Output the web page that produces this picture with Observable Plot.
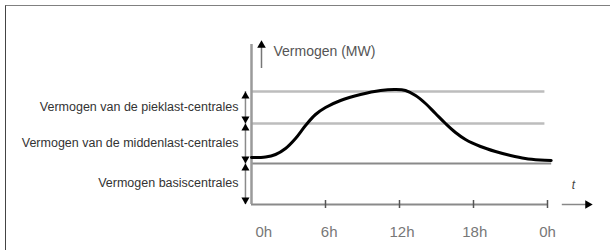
<!DOCTYPE html>
<html>
<head>
<meta charset="utf-8">
<script src="https://cdn.jsdelivr.net/npm/d3@7"></script>
<script src="https://cdn.jsdelivr.net/npm/@observablehq/plot@0.6"></script>
<style>
  html, body { margin: 0; padding: 0; background: #fff; overflow: hidden; }
  #wrap { position: relative; width: 610px; height: 250px; }
  #border { position: absolute; left: 5px; top: 5px; width: 700px; height: 400px;
            border-left: 1.5px solid #444; border-top: 1.5px solid #808080; }
  #chart { position: absolute; left: 0; top: 0; }
</style>
</head>
<body>
<div id="wrap"><div id="border"></div><div id="chart"></div></div>
<script>
// Daily load curve (hours, MW, arbitrary units)
const hours  = [0, 1.14, 1.95, 2.76, 3.57, 4.38, 5.19, 6.0, 7.22, 8.84, 10.46, 11.68, 12.49, 13.3, 14.11, 14.92, 15.73, 16.54, 17.35, 18.57, 19.78, 21.0, 22.2, 23.4, 24.3];
const power  = [47, 47.5, 50, 56, 66, 79, 90, 97, 104, 110, 114, 115, 114, 109, 101, 91, 81, 72, 65, 58, 53, 49, 46, 44.5, 44];

// Capacity levels (base, middle, peak)
const levels = [41, 81, 113];
const levelEnds = [24.3, 23.75, 23.75];
const levelColors = ["#8a8a8a", "#bdbdbd", "#bdbdbd"];
const bandLabels = ["Vermogen basiscentrales", "Vermogen van de middenlast-centrales", "Vermogen van de pieklast-centrales"];

// x axis ticks
const tickHours = [0, 6, 12, 18, 24];
const tickLabels = ["0h", "6h", "12h", "18h", "0h"];
const tickLabelPos = [1, 6.3, 12.2, 18.1, 24];

const curve = hours.map((h, i) => ({h, p: power[i]}));
const lv = levels.map((v, i) => ({v, x2: levelEnds[i], c: levelColors[i]}));
const bounds = [0, ...levels];
const bands = bandLabels.map((t, i) => ({t, y: (bounds[i] + bounds[i + 1]) / 2}));
const dimX = -0.49;
const upTips = levels.map(v => ({v}));
const downTips = bounds.slice(0, 3).map(v => ({v}));

const chart = Plot.plot({
  width: 610,
  height: 250,
  x: {domain: [0, 24], range: [251, 547], axis: null},
  y: {domain: [0, 164], range: [204, 40], axis: null},
  style: {fontFamily: "Liberation Sans, Arial, sans-serif", background: "transparent"},
  marks: [
    // capacity level lines
    Plot.link(lv, {x1: 0, x2: "x2", y1: "v", y2: "v", stroke: "c", strokeWidth: d => d.v === levels[0] ? 2 : 2.5}),
    // x axis
    Plot.ruleY([0], {x1: 0, x2: 24, stroke: "#8a8a8a", strokeWidth: 2}),
    Plot.ruleX(tickHours.slice(1), {y1: -4, y2: 4, stroke: "#555", strokeWidth: 1.5}),
    // y axis
    Plot.ruleX([0], {y1: 0, y2: 160, stroke: "#9a9a9a", strokeWidth: 2.5}),
    // dimension line
    Plot.ruleX([dimX], {y1: 0, y2: levels[2], stroke: "#8a8a8a", strokeWidth: 1.5}),
    Plot.dot(upTips, {x: dimX, y: "v", symbol: "triangle", r: 3, fill: "#000", stroke: "none", dy: 4.6}),
    Plot.dot(downTips, {x: dimX, y: "v", symbol: "triangle", r: 3, rotate: 180, fill: "#000", stroke: "none", dy: -4.6}),
    // band labels
    Plot.text(bands, {x: -1.05, y: "y", text: "t", textAnchor: "end", fontSize: 12.5, fill: "#333", dy: -1}),
    // load curve
    Plot.line(curve, {x: "h", y: "p", curve: "catmull-rom", stroke: "#000", strokeWidth: 3}),
    // y axis title arrow
    Plot.ruleX([0.81], {y1: 136, y2: 158, stroke: "#777", strokeWidth: 1.5}),
    Plot.dot([164], {x: 0.81, y: d => d, symbol: "triangle", r: 3.2, fill: "#000", stroke: "none", dy: 4.8}),
    Plot.text(["Vermogen (MW)"], {x: 1.78, y: 153, text: d => d, textAnchor: "start", fontSize: 14, fill: "#555", letterSpacing: 0.8}),
    // time arrow
    Plot.ruleY([0], {x1: 25.2, x2: 27.2, stroke: "#888", strokeWidth: 1.5}),
    Plot.dot([27.65], {x: d => d, y: 0, symbol: "triangle", r: 3.2, rotate: 90, fill: "#000", stroke: "none", dx: -4.8}),
    Plot.text(["t"], {x: 26.1, y: 19, text: d => d, fontSize: 12, fill: "#444", fontStyle: "italic"}),
    // tick labels
    Plot.text(tickLabels, {x: (d, i) => tickLabelPos[i], y: 0, text: d => d, dy: 28, fontSize: 15, fill: "#777"})
  ]
});
document.getElementById("chart").appendChild(chart);
</script>
</body>
</html>
